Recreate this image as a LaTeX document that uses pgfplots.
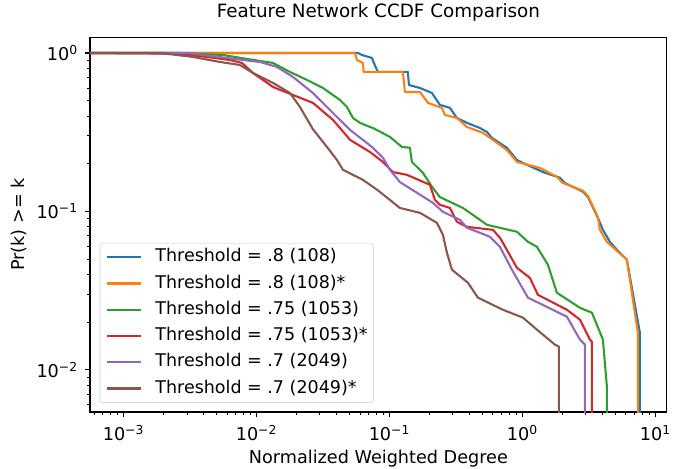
\documentclass[border=0pt]{standalone}
\usepackage{fontspec}
\setmainfont{DejaVu Sans}
\usepackage{pgfplots}
\pgfplotsset{compat=1.18}
\definecolor{c0}{HTML}{1F77B4}
\definecolor{c1}{HTML}{FF7F0E}
\definecolor{c2}{HTML}{2CA02C}
\definecolor{c3}{HTML}{D62728}
\definecolor{c4}{HTML}{9467BD}
\definecolor{c5}{HTML}{8C564B}

\begin{document}
\begin{tikzpicture}
\begin{loglogaxis}[
    scale only axis,
    width=415.4pt, height=270pt,
    xmin=5.6e-4, xmax=12.2,
    ymin=5.4e-3, ymax=1.26,
    axis line style={line width=0.8pt},
    tick align=outside, tick pos=left,
    major tick length=3.5pt, minor tick length=2pt,
    major tick style={line width=0.8pt, black},
    minor tick style={line width=0.6pt, black},
    xtick={1e-3,1e-2,1e-1,1,10},
    xticklabels={10\textsuperscript{−3},10\textsuperscript{−2},10\textsuperscript{−1},10\textsuperscript{0},10\textsuperscript{1}},
    ytick={1e-2,1e-1,1},
    yticklabels={10\textsuperscript{−2},10\textsuperscript{−1},10\textsuperscript{0}},
    minor xtick={6e-4,7e-4,8e-4,9e-4,2e-3,3e-3,4e-3,5e-3,6e-3,7e-3,8e-3,9e-3,
        2e-2,3e-2,4e-2,5e-2,6e-2,7e-2,8e-2,9e-2,0.2,0.3,0.4,0.5,0.6,0.7,0.8,0.9,2,3,4,5,6,7,8,9},
    minor ytick={6e-3,7e-3,8e-3,9e-3,2e-2,3e-2,4e-2,5e-2,6e-2,7e-2,8e-2,9e-2,0.2,0.3,0.4,0.5,0.6,0.7,0.8,0.9},
    ticklabel style={font=\fontsize{12.7}{15}\selectfont},
    xticklabel style={yshift=-2.5pt},
    yticklabel style={xshift=-1.7pt},
    title={Feature Network CCDF Comparison},
    title style={font=\fontsize{13.2}{16}\selectfont,
        at={(axis description cs:0.5,1)}, anchor=base, yshift=7.9pt},
    xlabel={Normalized Weighted Degree},
    ylabel={Pr(k) >= k},
    label style={font=\fontsize{12.7}{15}\selectfont},
    xlabel style={at={(axis description cs:0.5,0)}, anchor=base, yshift=-36.7pt},
    ylabel style={at={(axis description cs:-0.1228,0.5)}, anchor=center},
    legend cell align=left,
    legend style={at={(0,0)}, anchor=south west, xshift=7pt, yshift=6.5pt,
        draw=black!20, rounded corners=2pt, fill=white, fill opacity=0.8, text opacity=1,
        font=\fontsize{12.6}{15}\selectfont,
        nodes={inner xsep=0pt, inner ysep=0pt, text height=9.5pt, text depth=3pt},
        row sep=6.4pt, column sep=9.4pt, inner xsep=4pt, inner ysep=4pt},
    legend image code/.code={\draw[#1] (0pt,0pt) -- (25pt,0pt);},
    every axis plot/.append style={line width=1.5pt, line join=round},
]
\coordinate (O) at (rel axis cs:0,0);
% Threshold = .8 (108)
\addplot[c0] coordinates {
    (5e-4,1.0) (5.80e-2,1.0) (6.21e-2,0.971) (7.39e-2,0.930) (7.75e-2,0.84) (8.20e-2,0.759)
    (0.1377,0.759) (0.1401,0.628) (0.1696,0.601) (0.2087,0.559) (0.2397,0.470)
    (0.2850,0.450) (0.3218,0.389) (0.3825,0.362) (0.4791,0.336) (0.5408,0.317)
    (0.5898,0.291) (0.7645,0.252) (0.9092,0.211) (1.009,0.202) (1.426,0.177)
    (1.914,0.163) (2.087,0.151) (2.850,0.133) (3.108,0.123) (3.696,0.0910)
    (4.030,0.0764) (4.548,0.0642) (5.135,0.0572) (6.106,0.0494) (7.646,0.0171) (7.646,0.004)
};
\addlegendentry{Threshold = .8 (108)}
% Threshold = .8 (108)*
\addplot[c1] coordinates {
    (5e-4,1.0) (5.50e-2,1.0) (5.70e-2,0.903) (6.32e-2,0.865) (6.40e-2,0.759)
    (0.1263,0.759) (0.1307,0.567) (0.1696,0.567) (0.1948,0.484) (0.2481,0.450)
    (0.2614,0.406) (0.3218,0.389) (0.3825,0.341) (0.5047,0.313) (0.5696,0.291)
    (0.7645,0.244) (0.9092,0.205) (1.354,0.188) (1.817,0.165) (2.016,0.151)
    (2.850,0.135) (3.108,0.125) (3.696,0.092) (3.825,0.0764) (4.318,0.0642)
    (6.106,0.0494) (7.385,0.0171) (7.385,0.004)
};
\addlegendentry{Threshold = .8 (108)*}
% Threshold = .75 (1053)
\addplot[c2] coordinates {
    (5e-4,1.0) (2.53e-3,1.0) (5.60e-3,0.971) (8.48e-3,0.917) (1.331e-2,0.865)
    (1.786e-2,0.759) (2.397e-2,0.676) (3.162e-2,0.601) (4.244e-2,0.505) (4.792e-2,0.456)
    (5.316e-2,0.389) (6.0e-2,0.362) (7.134e-2,0.341) (7.513e-2,0.336) (0.1009,0.295)
    (0.1242,0.255) (0.1426,0.252) (0.1476,0.205) (0.1786,0.175) (0.2087,0.143)
    (0.2397,0.123) (0.3569,0.105) (0.4791,0.0884) (0.5408,0.0822) (0.9092,0.0743)
    (1.100,0.0642) (1.285,0.0597) (1.555,0.0460) (1.817,0.0306) (2.706,0.0246)
    (3.332,0.0229) (4.030,0.0155) (4.318,0.00781) (4.318,0.004)
};
\addlegendentry{Threshold = .75 (1053)}
% Threshold = .75 (1053)*
\addplot[c3] coordinates {
    (5e-4,1.0) (2.53e-3,0.99) (4.24e-3,0.944) (6.32e-3,0.903) (7.78e-3,0.865)
    (9.41e-3,0.748) (1.331e-2,0.610) (1.881e-2,0.543) (2.659e-2,0.484) (3.760e-2,0.378)
    (4.244e-2,0.336) (5.047e-2,0.283) (7.134e-2,0.237) (8.934e-2,0.205) (0.1062,0.177)
    (0.1354,0.170) (0.2016,0.147) (0.2198,0.118) (0.2397,0.110) (0.2850,0.105)
    (0.3218,0.0859) (0.3825,0.0798) (0.6000,0.0764) (0.6773,0.0681) (0.7134,0.0633)
    (0.9092,0.0440) (1.139,0.0380) (1.307,0.0297) (2.161,0.0239) (2.706,0.0207)
    (3.218,0.0155) (3.332,0.0150) (3.332,0.004)
};
\addlegendentry{Threshold = .75 (1053)*}
% Threshold = .7 (2049)
\addplot[c4] coordinates {
    (5e-4,1.0) (3.0e-3,1.0) (7.92e-3,0.903) (1.062e-2,0.877) (1.426e-2,0.816)
    (1.881e-2,0.706) (2.659e-2,0.559) (3.760e-2,0.418) (5.047e-2,0.327) (6.773e-2,0.270)
    (7.513e-2,0.252) (8.934e-2,0.218) (0.1009,0.183) (0.1199,0.153) (0.1610,0.131)
    (0.2124,0.113) (0.2525,0.0993) (0.3389,0.0884) (0.3825,0.0787) (0.4791,0.0732)
    (0.5696,0.0691) (0.6773,0.0597) (0.8338,0.0428) (1.100,0.0285) (2.161,0.0216)
    (2.706,0.0155) (2.951,0.0144) (2.951,0.004)
};
\addlegendentry{Threshold = .7 (2049)}
% Threshold = .7 (2049)*
\addplot[c5] coordinates {
    (5e-4,1.0) (1.88e-3,1.0) (3.33e-3,0.944) (5.32e-3,0.877) (7.51e-3,0.840)
    (9.41e-3,0.748) (1.331e-2,0.647) (1.786e-2,0.559) (2.124e-2,0.456) (2.659e-2,0.330)
    (3.389e-2,0.255) (4.030e-2,0.211) (4.470e-2,0.183) (6.32e-2,0.158) (8.054e-2,0.137)
    (0.1009,0.118) (0.1199,0.105) (0.1696,0.0978) (0.2276,0.0846) (0.2525,0.0711)
    (0.2706,0.0547) (0.2951,0.0428) (0.3891,0.0354) (0.4627,0.0285) (0.7134,0.0239)
    (1.009,0.0213) (1.285,0.0179) (1.756,0.0144) (1.88,0.0140) (1.88,0.004)
};
\addlegendentry{Threshold = .7 (2049)*}
\end{loglogaxis}
\pgfresetboundingbox
\path (O) ++(-64.8pt,-40.3pt) rectangle ++(484.6pt,337pt);
\end{tikzpicture}
\end{document}
